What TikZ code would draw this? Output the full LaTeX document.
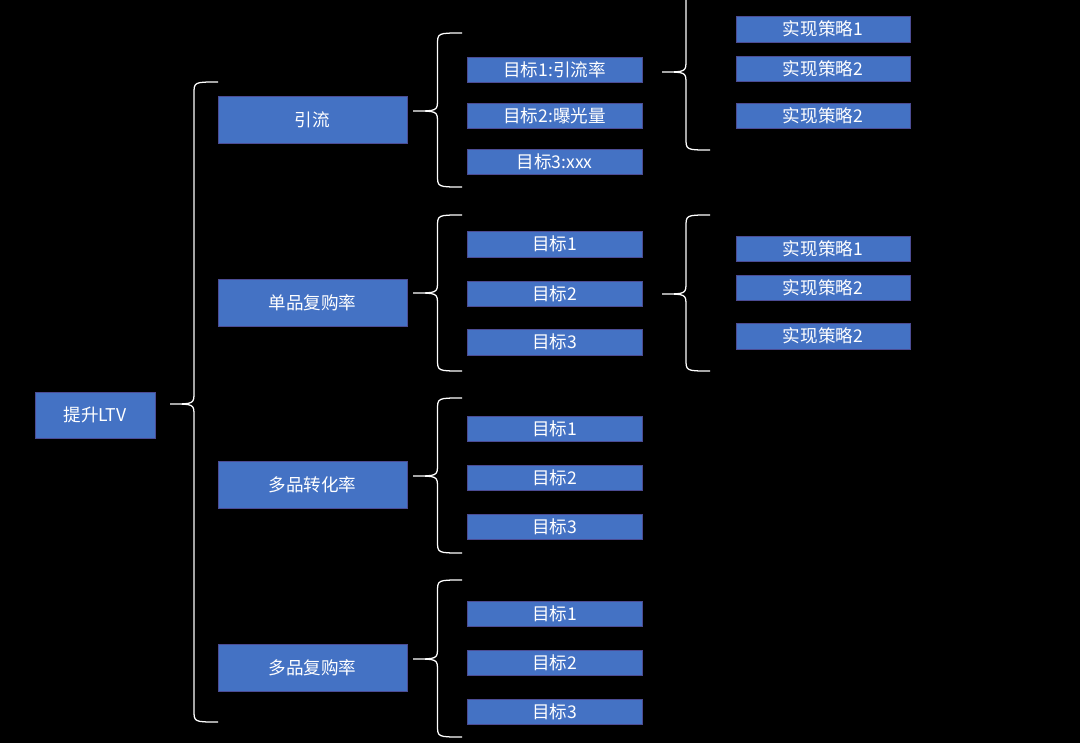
\documentclass[tikz,border=0pt]{standalone}
\usepackage{fontspec}
\setmainfont{Noto Sans CJK SC}
\begin{document}
\begin{tikzpicture}[x=0.025cm,y=-0.025cm,
 bx/.style={draw=blue!40!black!70!white,fill=boxblue,text=white,inner sep=0pt,font=\fontsize{12.5}{14}\selectfont},
 br/.style={draw=white,line width=0.9pt}]
\definecolor{boxblue}{HTML}{4472C4}
\fill[black] (0,0) rectangle (1080,743);
\useasboundingbox (0,0) rectangle (1080,743);
\newcommand{\bx}[6]{\node[bx,minimum width={(#3-#2)*0.025cm},minimum height={(#5-#4)*0.025cm}] (#1) at ({(#2+#3)/2},{(#4+#5)/2}) {#6};}
\newcommand{\brc}[5]{% x1 x2 top tip bottom
 \draw[br] (#2,#3) .. controls ({(#1+#2)/2},#3) .. ({(#1+#2)/2},#3+12) -- ({(#1+#2)/2},#4-12) .. controls ({(#1+#2)/2},#4) .. (#1,#4) .. controls ({(#1+#2)/2},#4) .. ({(#1+#2)/2},#4+12) -- ({(#1+#2)/2},#5-12) .. controls ({(#1+#2)/2},#5) .. (#2,#5);}
\bx{root}{35}{155}{392}{438}{提升LTV}
\bx{a}{218}{407}{96}{143}{引流}
\bx{b}{218}{407}{279}{326}{单品复购率}
\bx{c}{218}{407}{461}{508}{多品转化率}
\bx{d}{218}{407}{644}{691}{多品复购率}
\bx{a1}{467}{642}{57}{82}{目标1:引流率}
\bx{a2}{467}{642}{103}{128}{目标2:曝光量}
\bx{a3}{467}{642}{149}{174}{目标3:xxx}
\bx{b1}{467}{642}{231}{257}{目标1}
\bx{b2}{467}{642}{281}{306}{目标2}
\bx{b3}{467}{642}{329}{355}{目标3}
\bx{c1}{467}{642}{416}{441}{目标1}
\bx{c2}{467}{642}{465}{490}{目标2}
\bx{c3}{467}{642}{514}{539}{目标3}
\bx{d1}{467}{642}{601}{626}{目标1}
\bx{d2}{467}{642}{650}{675}{目标2}
\bx{d3}{467}{642}{699}{724}{目标3}
\bx{s1}{736}{910}{16}{42}{实现策略1}
\bx{s2}{736}{910}{56}{81}{实现策略2}
\bx{s3}{736}{910}{103}{128}{实现策略2}
\bx{t1}{736}{910}{236}{261}{实现策略1}
\bx{t2}{736}{910}{275}{300}{实现策略2}
\bx{t3}{736}{910}{323}{349}{实现策略2}
\brc{170}{218}{82}{404}{722}
\brc{413}{462}{33}{111}{187}
\brc{413}{462}{215}{293}{371}
\brc{413}{462}{398}{476}{553}
\brc{413}{462}{580}{659}{737}
\brc{662}{710}{-8}{72}{150}
\brc{662}{710}{215}{294}{371}
\end{tikzpicture}
\end{document}
